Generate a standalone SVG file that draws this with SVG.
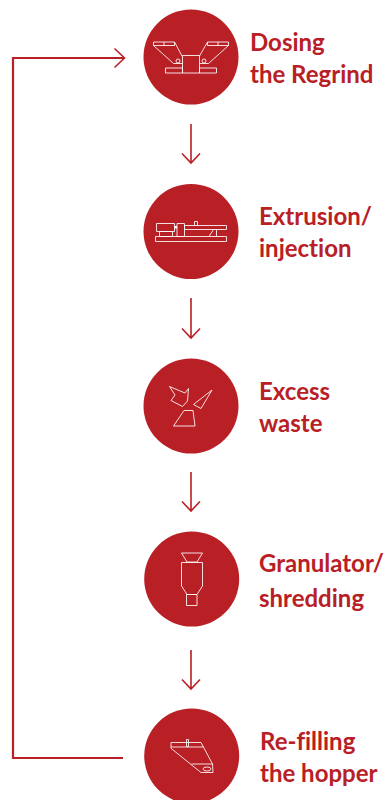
<svg xmlns="http://www.w3.org/2000/svg" width="386" height="800" viewBox="0 0 386 800">
<style>
.c{fill:#b92025}
.i{fill:none;stroke:#fff;stroke-width:1;stroke-opacity:.85}
.t{font-family:Lato,"Liberation Sans",sans-serif;font-weight:700;font-size:24px;fill:#b92025;font-variant-ligatures:none}
.a{fill:none;stroke:#b92025;stroke-width:1.6}
.l{fill:none;stroke:#b92025;stroke-width:2.2}
</style>
<rect width="386" height="800" fill="#fff"/>
<g id="connectors">
<path class="l" d="M123 758H13V58H124"/>
<path class="a" d="M114.500 48.500L124.500 58L114.500 67.500"/>
<path class="a" d="M191 124V163M182 153.500L191 163L200 153.500"/>
<path class="a" d="M191 298V338M182 328.500L191 338L200 328.500"/>
<path class="a" d="M191 472V511M182 501.500L191 511L200 501.500"/>
<path class="a" d="M191 650V689M182 679.500L191 689L200 679.500"/>
</g>
<g id="node-dosing">
<circle class="c" cx="191" cy="57" r="47.500"/>
<path class="i" d="M153.500 42H174.500V45.500H153.500ZM164 42V45.500M153.500 45.500L173.500 63.500H182.500M174.500 42L182 56"/>
<path class="i" d="M207.500 42H228.500V45.500H207.500ZM218 42V45.500M228.500 45.500L208.500 63.500H199.500M207.500 42L199.500 56"/>
<path class="i" d="M182.500 55.500H199.500V73H182.500ZM165.500 68H182.500V73H165.500ZM199.500 68H216.500V73H199.500Z"/>
<circle class="i" cx="178" cy="61" r="2"/><circle class="i" cx="204" cy="61" r="2"/>
<text class="t" x="250" y="51">Dosing</text><text class="t" x="250" y="83">the Regrind</text>
</g>
<g id="node-extrusion">
<circle class="c" cx="191" cy="231.500" r="47.500"/>
<path class="i" d="M156.500 223.500H174.500V231.500H156.500ZM159.500 231.500H172.500V236.500H159.500ZM155.500 236.500H226.500V241.500H155.500ZM177 223.500H184.500V236.500H177ZM184.500 225.500H226.500V229.500H184.500ZM194.500 225.500V221.500H197.500V225.500M209 236.500L213.500 229.500M216.500 229.500V236.500"/>
<rect x="174.500" y="226" width="2.500" height="2.500" fill="#fff"/>
<text class="t" x="259" y="225">Extrusion/</text><text class="t" x="259" y="257">injection</text>
</g>
<g id="node-waste">
<circle class="c" cx="191" cy="406" r="47.500"/>
<path class="i" d="M169.500 386.500L185 393L188.500 388.500L187.500 401L182.500 406.500L171 400.500L175 395ZM212 390L201 408.500L193.500 404.500ZM184 410.500H193L195 426H173.500Z"/>
<text class="t" x="259" y="400">Excess</text><text class="t" x="259" y="432">waste</text>
</g>
<g id="node-granulator">
<circle class="c" cx="191.700" cy="579" r="47.500"/>
<path class="i" d="M181.500 553H202.500L197 562H187ZM181.500 562.500H202.500V586L197 594.500H187L181.500 586ZM186.500 594.500H197V605.500H186.500Z"/>
<text class="t" x="259" y="572">Granulator/</text><text class="t" x="259" y="607">shredding</text>
</g>
<g id="node-refilling">
<circle class="c" cx="191.700" cy="756" r="47.500"/>
<path class="i" d="M171 742.500H201L212.500 764L213 772.500H201L171 748.300ZM171 747H203.500M186.500 739.500H188.500V746.500H186.500ZM191.500 764H212.500"/>
<ellipse class="i" cx="207" cy="769" rx="4" ry="2"/>
<text class="t" x="260" y="750">Re-filling</text><text class="t" x="260" y="782">the hopper</text>
</g>
</svg>
